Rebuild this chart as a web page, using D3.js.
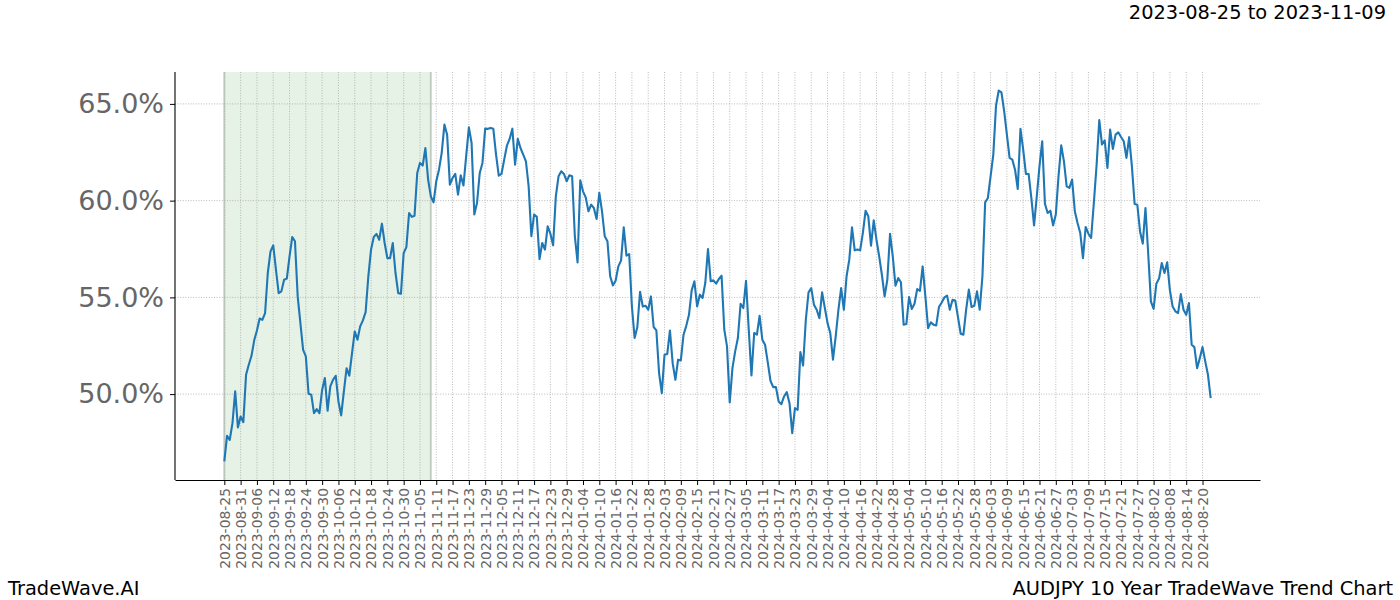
<!DOCTYPE html>
<html><head><meta charset="utf-8">
<script src="https://cdn.jsdelivr.net/npm/d3@7"></script>
<style>
body{margin:0;background:#fff;}
svg{display:block;font-family:"DejaVu Sans",sans-serif;}
</style>
</head><body>
<svg id="chart" width="1400" height="600"></svg>
<script>
// Daily trend values (percent), one per day starting 2023-08-25
const values = [
46.52, 47.84, 47.64, 48.50, 50.14, 48.28, 48.84, 48.55, 51.00, 51.52,
51.98, 52.78, 53.29, 53.91, 53.84, 54.19, 56.26, 57.38, 57.69, 56.43,
55.22, 55.31, 55.91, 55.97, 57.12, 58.12, 57.90, 55.05, 53.67, 52.29,
51.95, 50.02, 49.97, 49.02, 49.22, 49.02, 50.22, 50.83, 49.14, 50.40,
50.74, 50.95, 49.62, 48.90, 50.14, 51.34, 50.95, 52.12, 53.24, 52.81,
53.50, 53.81, 54.24, 56.09, 57.47, 58.12, 58.28, 57.98, 58.81, 57.81,
57.03, 57.03, 57.81, 56.26, 55.22, 55.19, 57.29, 57.60, 59.36, 59.16,
59.22, 61.43,
61.95, 61.81, 62.72, 61.09, 60.22, 59.91, 61.00, 61.60, 62.47, 63.93,
63.41, 60.83, 61.17, 61.38, 60.31, 61.31, 60.78, 62.29, 63.79, 62.98,
59.28, 59.88, 61.43, 61.95, 63.72, 63.71, 63.76, 63.71, 62.38, 61.29,
61.38, 62.12, 62.84, 63.19, 63.72, 61.86, 63.19, 62.72, 62.38, 62.03,
60.74, 58.16, 59.28, 59.16, 56.98, 57.81, 57.47, 58.67, 58.29, 57.69,
60.22, 61.26, 61.52, 61.38, 61.00, 61.31, 61.26, 58.16, 56.81, 61.05,
60.48, 60.17, 59.45, 59.79, 59.62, 59.05, 60.40, 59.45, 58.16, 57.90,
56.09, 55.62,
55.86, 56.60, 56.90, 58.62, 57.16, 57.24, 54.53, 52.90, 53.47, 55.29,
54.53, 54.57, 54.36, 55.05, 53.47, 53.29, 51.09, 50.05, 52.03, 52.07,
53.29, 51.60, 50.74, 51.78, 51.74, 53.07, 53.53, 54.10, 55.36, 55.83,
54.53, 55.14, 54.97, 55.74, 57.50, 55.83, 55.88, 55.71, 55.95, 56.12,
53.33, 52.47, 49.57, 51.34, 52.21, 52.90, 54.67, 54.45, 55.86, 53.33,
50.97, 53.16, 53.07, 54.05, 52.81, 52.55, 51.64, 50.69, 50.36, 50.36,
49.62, 49.48, 49.88, 50.10, 49.53, 47.98, 49.28, 49.19, 52.17, 51.48,
53.84, 55.26, 55.48,
54.62, 54.36, 53.93, 55.26, 54.45, 53.67, 53.16, 51.78, 52.98, 54.36,
55.48, 54.36, 56.09, 56.95, 58.62, 57.43, 57.47, 57.43, 58.33, 59.48,
59.19, 57.67, 58.98, 57.98, 57.12, 56.17, 55.05, 55.91, 58.29, 57.12,
55.60, 56.00, 55.78, 53.59, 53.62, 55.02, 54.40, 54.67, 55.43, 55.34,
56.60, 55.05, 53.41, 53.71, 53.59, 53.55, 54.50, 54.74, 55.00, 55.09,
54.36, 54.88, 54.84, 53.98, 53.12, 53.07, 54.36, 55.40, 54.50, 54.57,
55.31, 54.36, 56.09, 59.91, 60.14, 61.26, 62.38, 64.91, 65.69, 65.60,
64.62, 63.41, 62.21,
62.12, 61.60, 60.60, 63.71, 62.64, 61.38, 61.38, 60.14, 58.72, 60.22,
61.78, 63.07, 59.84, 59.36, 59.48, 58.72, 59.28, 61.26, 62.86, 62.03,
60.74, 60.66, 61.09, 59.45, 58.84, 58.33, 57.03, 58.64, 58.29, 58.07,
59.88, 61.81, 64.16, 62.90, 63.12, 61.69, 63.67, 62.67, 63.41, 63.53,
63.29, 63.07, 62.21, 63.28, 61.78, 59.83, 59.79, 58.41, 57.78, 59.62,
57.29, 54.79, 54.41, 55.71, 55.97, 56.78, 56.26, 56.81, 55.36, 54.53,
54.28, 54.19, 55.17, 54.36, 54.10, 54.71, 52.55, 52.43, 51.34, 51.86,
52.43, 51.69, 51.00, 49.79
];

const tickLabels = [
"2023-08-25","2023-08-31","2023-09-06","2023-09-12","2023-09-18","2023-09-24",
"2023-09-30","2023-10-06","2023-10-12","2023-10-18","2023-10-24","2023-10-30",
"2023-11-05","2023-11-11","2023-11-17","2023-11-23","2023-11-29","2023-12-05",
"2023-12-11","2023-12-17","2023-12-23","2023-12-29","2024-01-04","2024-01-10",
"2024-01-16","2024-01-22","2024-01-28","2024-02-03","2024-02-09","2024-02-15",
"2024-02-21","2024-02-27","2024-03-05","2024-03-11","2024-03-17","2024-03-23",
"2024-03-29","2024-04-04","2024-04-10","2024-04-16","2024-04-22","2024-04-28",
"2024-05-04","2024-05-10","2024-05-16","2024-05-22","2024-05-28","2024-06-03",
"2024-06-09","2024-06-15","2024-06-21","2024-06-27","2024-07-03","2024-07-09",
"2024-07-15","2024-07-21","2024-07-27","2024-08-02","2024-08-08","2024-08-14",
"2024-08-20"
];
const tickStep = 6;           // days between labelled ticks
const yTicks = [50, 55, 60, 65];
const spanDays = [0, 76];     // 2023-08-25 .. 2023-11-09
const titleText = "2023-08-25 to 2023-11-09";
const leftFooter = "TradeWave.AI";
const rightFooter = "AUDJPY 10 Year TradeWave Trend Chart";

const svg = d3.select("#chart");
const L = 175, R = 1260, T = 72, B = 480;
const n = values.length;
const xpad = 0.05 * (n - 1);
const x = d3.scaleLinear().domain([-xpad, n - 1 + xpad]).range([L, R]);
const [ymin, ymax] = d3.extent(values);
const ypad = 0.05 * (ymax - ymin);
const y = d3.scaleLinear().domain([ymin - ypad, ymax + ypad]).range([B, T]);

const tickVals = tickLabels.map((d, i) => i * tickStep);

// highlight span
svg.append("rect")
  .attr("x", x(spanDays[0])).attr("y", T)
  .attr("width", x(spanDays[1]) - x(spanDays[0])).attr("height", B - T)
  .attr("fill", "rgb(230,242,230)");
spanDays.forEach(d => {
  svg.append("line").attr("x1", x(d)).attr("x2", x(d)).attr("y1", T).attr("y2", B)
    .attr("stroke", "rgba(160,170,160,0.55)").attr("stroke-width", 2);
});

// grid
const grid = svg.append("g").attr("stroke", "#a8a8a8").attr("stroke-width", 0.8)
  .attr("stroke-dasharray", "1,1.6");
tickVals.forEach(v => grid.append("line").attr("x1", x(v)).attr("x2", x(v)).attr("y1", T).attr("y2", B));
yTicks.forEach(v => grid.append("line").attr("x1", L).attr("x2", R).attr("y1", y(v)).attr("y2", y(v)));

// line
svg.append("path").datum(values)
  .attr("d", d3.line().x((d, i) => x(i)).y(d => y(d)))
  .attr("fill", "none").attr("stroke", "#1f77b4").attr("stroke-width", 2.1)
  .attr("stroke-linejoin", "round").attr("stroke-linecap", "butt");

// axes
const xAxis = svg.append("g").attr("transform", `translate(0,${B})`)
  .call(d3.axisBottom(x).tickValues(tickVals).tickFormat((d, i) => tickLabels[i]).tickSize(5).tickSizeOuter(0));
xAxis.select(".domain").attr("stroke", "#000").attr("stroke-width", 1.1);
xAxis.selectAll(".tick line").attr("stroke", "#000").attr("stroke-width", 1);
xAxis.selectAll(".tick text")
  .attr("transform", "rotate(-90)").attr("x", -8).attr("y", 0).attr("dy", "0.35em")
  .attr("text-anchor", "end").attr("fill", "#666").style("font-size", "13.9px")
  .style("font-family", '"DejaVu Sans", sans-serif');

const yAxis = svg.append("g").attr("transform", `translate(${L},0)`)
  .call(d3.axisLeft(y).tickValues(yTicks).tickFormat(d => d.toFixed(1) + "%").tickSize(5).tickPadding(6).tickSizeOuter(0));
yAxis.select(".domain").attr("d", `M0,${B}V${T}`).attr("stroke", "#000").attr("stroke-width", 1.1);
yAxis.selectAll(".tick line").attr("stroke", "#000").attr("stroke-width", 1);
yAxis.selectAll(".tick text").attr("fill", "#666").style("font-size", "27px")
  .style("font-family", '"DejaVu Sans", sans-serif');

// texts
svg.append("text").attr("x", 1386).attr("y", 19).attr("text-anchor", "end")
  .style("font-size", "19.4px").attr("fill", "#000").text(titleText);
svg.append("text").attr("x", 8).attr("y", 595).attr("text-anchor", "start")
  .style("font-size", "19.4px").attr("fill", "#000").text(leftFooter);
svg.append("text").attr("x", 1393).attr("y", 595).attr("text-anchor", "end")
  .style("font-size", "19.4px").attr("fill", "#000").text(rightFooter);
</script>
</body></html>
